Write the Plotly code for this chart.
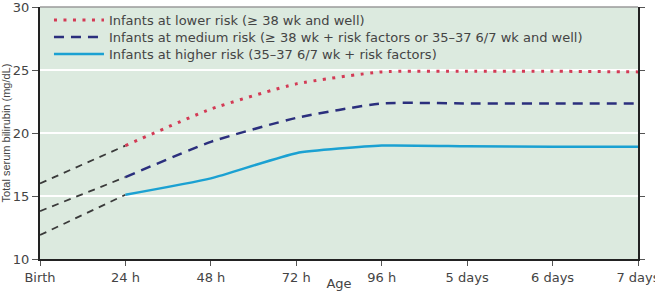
import plotly.graph_objects as go

# ---- data ----
tick_hours = [0, 24, 48, 72, 96, 120, 144, 168]
tick_labels = ["Birth", "24 h", "48 h", "72 h", "96 h", "5 days", "6 days", "7 days"]

hours = [24, 48, 72, 96, 120, 144, 168]
lower_risk = [19.0, 21.9, 23.9, 24.85, 24.9, 24.9, 24.85]
medium_risk = [16.5, 19.3, 21.2, 22.35, 22.35, 22.35, 22.35]
higher_risk = [15.1, 16.4, 18.4, 19.0, 18.95, 18.9, 18.9]

ext_hours = [0, 24]
lower_ext = [16.0, 19.0]
medium_ext = [13.8, 16.5]
higher_ext = [11.9, 15.1]

names = [
    "Infants at lower risk (≥ 38 wk and well)",
    "Infants at medium risk (≥ 38 wk + risk factors or 35–37 6/7 wk and well)",
    "Infants at higher risk (35–37 6/7 wk + risk factors)",
]

RED = "#d33a55"
NAVY = "#2b2f7d"
CYAN = "#1ba1d2"
EXT = "#3a3a3a"
TXT = "#444444"
FONT = "DejaVu Sans, sans-serif"

fig = go.Figure()

for ys in (lower_ext, medium_ext, higher_ext):
    fig.add_trace(go.Scatter(x=ext_hours, y=ys, mode="lines", showlegend=False,
                             line=dict(color=EXT, width=1.8, dash="7px,6px"),
                             hoverinfo="skip"))

fig.add_trace(go.Scatter(x=hours, y=lower_risk, mode="lines", name=names[0], legend="legend",
                         line=dict(color=RED, width=3, dash="3px,6.5px", shape="spline", smoothing=0.5)))
fig.add_trace(go.Scatter(x=hours, y=medium_risk, mode="lines", name=names[1], legend="legend2",
                         line=dict(color=NAVY, width=2.5, dash="10px,7px", shape="spline", smoothing=0.5)))
fig.add_trace(go.Scatter(x=hours, y=higher_risk, mode="lines", name=names[2], legend="legend3",
                         line=dict(color=CYAN, width=2.5, shape="spline", smoothing=0.5)))

# invisible trace for right axis
fig.add_trace(go.Scatter(x=[0], y=[10], yaxis="y2", mode="markers", showlegend=False,
                         marker=dict(opacity=0), hoverinfo="skip"))

leg_common = dict(x=0.015, xanchor="left", yanchor="middle",
                  bgcolor="rgba(0,0,0,0)", font=dict(size=13, color=TXT, family=FONT),
                  itemwidth=50)

fig.update_layout(
    width=655, height=291,
    margin=dict(l=40, r=17, t=7, b=32, autoexpand=False),
    paper_bgcolor="white",
    plot_bgcolor="#dceadf",
    font=dict(family=FONT, color=TXT, size=12),
    showlegend=True,
    legend=dict(y=0.948, **leg_common),
    legend2=dict(y=0.881, **leg_common),
    legend3=dict(y=0.813, **leg_common),
    xaxis=dict(range=[0, 168], tickvals=tick_hours, ticktext=tick_labels,
               showgrid=False, zeroline=False, showline=True, linecolor="#222",
               linewidth=2, ticks="outside", ticklen=5, tickcolor="#555",
               tickfont=dict(size=13, color=TXT), ticklabeloverflow="allow",
               title=dict(text="Age", font=dict(size=13, color=TXT), standoff=8),
               automargin=False),
    yaxis=dict(range=[10, 30], tickvals=[10, 15, 20, 25, 30],
               showgrid=True, gridcolor="white", gridwidth=1.5, zeroline=False,
               showline=True, linecolor="#222", linewidth=2,
               ticks="outside", ticklen=6, tickcolor="#555",
               tickfont=dict(size=13, color=TXT), ticklabeloverflow="allow",
               title=dict(text="Total serum bilirubin (mg/dL)",
                          font=dict(size=11, color=TXT, family="Liberation Sans, Arial, sans-serif"),
                          standoff=3),
               automargin=False),
    yaxis2=dict(range=[10, 30], overlaying="y", side="right",
                tickvals=[10, 15, 20, 25, 30], showgrid=False, zeroline=False,
                showline=True, linecolor="#222", linewidth=2,
                ticks="outside", ticklen=5, tickcolor="#555",
                ticklabelstandoff=8, tickfont=dict(size=11, color="#bbbbbb"),
                ticklabeloverflow="allow", automargin=False),
    shapes=[dict(type="line", xref="paper", yref="paper", x0=0, x1=1, y0=1, y1=1,
                 line=dict(color="#9a9a9a", width=1.5))],
)

fig.write_html("out.html")
